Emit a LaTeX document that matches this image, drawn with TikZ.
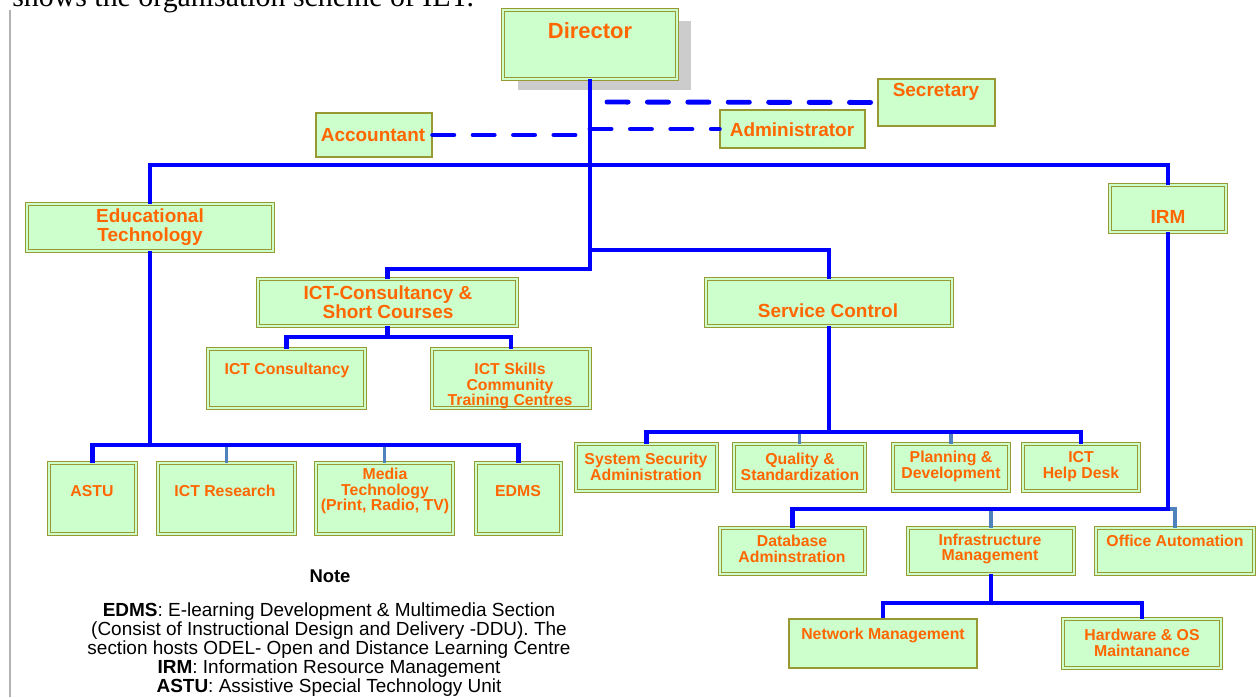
\documentclass[tikz,border=0pt]{standalone}
\usepackage{fontspec}
\setmainfont{Liberation Sans}
\newfontfamily\capfont{Liberation Serif}
\usetikzlibrary{shadows}

\definecolor{boxfill}{HTML}{CCFFCC}
\definecolor{boxline}{HTML}{999933}
\definecolor{unittxt}{HTML}{FF6600}
\definecolor{orgblue}{HTML}{0000FF}
\definecolor{subblue}{HTML}{4F81BD}

\tikzset{
  unit/.style={draw=boxline, line width=0.5pt, double=boxfill, double distance=1.2pt, fill=boxfill, inner sep=0pt},
  plainunit/.style={draw=boxline, line width=0.8pt, fill=boxfill, inner sep=0pt},
  bigtxt/.style={text=unittxt, align=center, inner sep=0pt, font=\bfseries\fontsize{10.8}{10.8}\selectfont},
  smalltxt/.style={text=unittxt, align=center, inner sep=0pt, font=\bfseries\fontsize{9}{9}\selectfont},
  link/.style={draw=orgblue, line width=2.8pt},
  sublink/.style={draw=subblue, line width=2.2pt},
  dashlink/.style={draw=orgblue, line width=2.8pt, line cap=round, dash pattern=on 12pt off 11pt},
}

\begin{document}
\begin{tikzpicture}[x=0.02cm, y=-0.02cm]
\useasboundingbox (0,0) rectangle (1257,697);

% page edge and caption line
\node[anchor=base west, inner sep=0pt, font=\capfont\fontsize{17}{17}\selectfont] (cap) at (12,6) {shows the organisation scheme of IET.};
\draw[black!30, line width=0.8pt] (10,10) -- (10,697);

% top level
\node[unit, minimum width=3.48cm, minimum height=1.38cm,
  drop shadow={shadow xshift=0.29cm, shadow yshift=-0.22cm, fill=black!20, opacity=1}] (dir) at (590,44.5) {};
\node[bigtxt, font=\bfseries\fontsize{12.5}{12.5}\selectfont] (dirT) at (590,31) {Director};
\node[plainunit, minimum width=2.34cm, minimum height=0.94cm] (sec) at (936.5,102.5) {};
\node[bigtxt] (secT) at (936,92) {Secretary};
\node[plainunit, minimum width=2.9cm, minimum height=0.76cm] (adm) at (792.5,129) {};
\node[bigtxt] (admT) at (792,130) {Administrator};
\node[plainunit, minimum width=2.32cm, minimum height=0.88cm] (acc) at (374,135) {};
\node[bigtxt] (accT) at (373,135) {Accountant};

% second level
\node[unit, minimum width=4.92cm, minimum height=0.94cm] (ed) at (150,227.5) {};
\node[bigtxt] (edT) at (150,227) {Educational\\Technology};
\node[unit, minimum width=2.32cm, minimum height=0.94cm] (irm) at (1168,208.5) {};
\node[bigtxt] (irmT) at (1168,217) {IRM};
\node[unit, minimum width=5.18cm, minimum height=0.94cm] (ictc) at (387.5,302.5) {};
\node[bigtxt] (ictcT) at (388,302) {ICT-Consultancy \&\\Short Courses};
\node[unit, minimum width=4.92cm, minimum height=0.94cm] (sc) at (829,302.5) {};
\node[bigtxt] (scT) at (828,311) {Service Control};

% under ICT-Consultancy
\node[unit, minimum width=3.14cm, minimum height=1.18cm] (cons) at (286.5,378.5) {};
\node[smalltxt] (consT) at (287,370) {ICT Consultancy};
\node[unit, minimum width=3.16cm, minimum height=1.18cm] (skills) at (511,378.5) {};
\node[smalltxt] (skillsT) at (510,386) {ICT Skills\\Community\\Training Centres};

% under Service Control
\node[unit, minimum width=2.82cm, minimum height=0.94cm] (ssa) at (646.5,467.5) {};
\node[smalltxt] (ssaT) at (646,466.5) {System Security\\Administration};
\node[unit, minimum width=2.62cm, minimum height=0.94cm] (qual) at (799.5,467.5) {};
\node[smalltxt] (qualT) at (800,466.5) {Quality \&\\Standardization};
\node[unit, minimum width=2.32cm, minimum height=0.94cm] (plan) at (951,467.5) {};
\node[smalltxt] (planT) at (951,466.5) {Planning \&\\Development};
\node[unit, minimum width=2.32cm, minimum height=0.94cm] (help) at (1081,467.5) {};
\node[smalltxt] (helpT) at (1081,466.5) {ICT\\Help Desk};

% under Educational Technology
\node[unit, minimum width=1.74cm, minimum height=1.42cm] (astu) at (92.5,498.5) {};
\node[smalltxt] (astuT) at (92,491) {ASTU};
\node[unit, minimum width=2.74cm, minimum height=1.42cm] (res) at (226.5,498.5) {};
\node[smalltxt] (resT) at (225,491) {ICT Research};
\node[unit, minimum width=2.74cm, minimum height=1.42cm] (media) at (384.5,498.5) {};
\node[smalltxt] (mediaT) at (385,491) {Media\\Technology\\(Print, Radio, TV)};
\node[unit, minimum width=1.7cm, minimum height=1.42cm] (edms) at (518.5,498.5) {};
\node[smalltxt] (edmsT) at (518,491) {EDMS};

% under IRM
\node[unit, minimum width=2.9cm, minimum height=0.92cm] (db) at (792.5,551) {};
\node[smalltxt] (dbT) at (792,549) {Database\\Adminstration};
\node[unit, minimum width=3.32cm, minimum height=0.92cm] (infra) at (991,551) {};
\node[smalltxt] (infraT) at (990,549) {Infrastructure\\Management};
\node[unit, minimum width=3.16cm, minimum height=0.92cm] (office) at (1175,551) {};
\node[smalltxt] (officeT) at (1175,541) {Office Automation};
\node[plainunit, minimum width=3.76cm, minimum height=0.98cm] (net) at (883,643.5) {};
\node[smalltxt] (netT) at (883,635) {Network Management};
\node[unit, minimum width=3.16cm, minimum height=0.98cm] (hw) at (1142,643.5) {};
\node[smalltxt] (hwT) at (1142,643) {Hardware \& OS\\Maintanance};

% note
\node[inner sep=0pt, font=\bfseries\fontsize{10.5}{10.5}\selectfont] (noteH) at (330,576) {Note};
\node[inner sep=0pt, align=center, font=\fontsize{10.8}{10.8}\selectfont] (noteB) at (329,650)
  {\textbf{EDMS}: E-learning Development \& Multimedia Section\\
   (Consist of Instructional Design and Delivery -DDU). The\\
   section hosts ODEL- Open and Distance Learning Centre\\
   \textbf{IRM}: Information Resource Management\\
   \textbf{ASTU}: Assistive Special Technology Unit};

% junctions
\coordinate (jTop) at (590,165);
\coordinate (jSc) at (590,250);
\coordinate (jIct) at (590,269);
\coordinate (jSec) at (607,102);
\coordinate (jCons) at (387.5,337);
\coordinate (jSvc) at (829,432);
\coordinate (jEd) at (150,445);
\coordinate (jIrm) at (1168,509);
\coordinate (jInf) at (991,603);

% staff lines
\draw[dashlink] (jSec) -- (sec.west);
\draw[dashlink] (acc.east) -- (acc.east -| dir.south);
\draw[dashlink] (adm.west -| dir.south) -- (adm.west);

% light stubs
\draw[sublink] (qual.north) -- (qual.north |- jSvc);
\draw[sublink] (plan.north) -- (plan.north |- jSvc);
\draw[sublink] (res.north) -- (res.north |- jEd);
\draw[sublink] (media.north) -- (media.north |- jEd);
\draw[sublink] (infra.north) -- (infra.north |- jIrm);
\draw[sublink] (jIrm) -| (office.north);

% main lines
\draw[link] (dir.south) -- (jIct) -| (ictc.north);
\draw[link] (ed.north) |- (jTop) -| (irm.north);
\draw[link] (jSc) -| (sc.north);
\draw[link] (ictc.south) -- (jCons);
\draw[link] (cons.north) |- (jCons) -| (skills.north);
\draw[link] (sc.south) -- (jSvc);
\draw[link] (ssa.north) |- (jSvc) -| (help.north);
\draw[link] (ed.south) -- (jEd);
\draw[link] (astu.north) |- (jEd) -| (edms.north);
\draw[link] (irm.south) -- (jIrm) -| (db.north);
\draw[link] (infra.south) -- (jInf);
\draw[link] (net.north) |- (jInf) -| (hw.north);
\end{tikzpicture}
\end{document}
